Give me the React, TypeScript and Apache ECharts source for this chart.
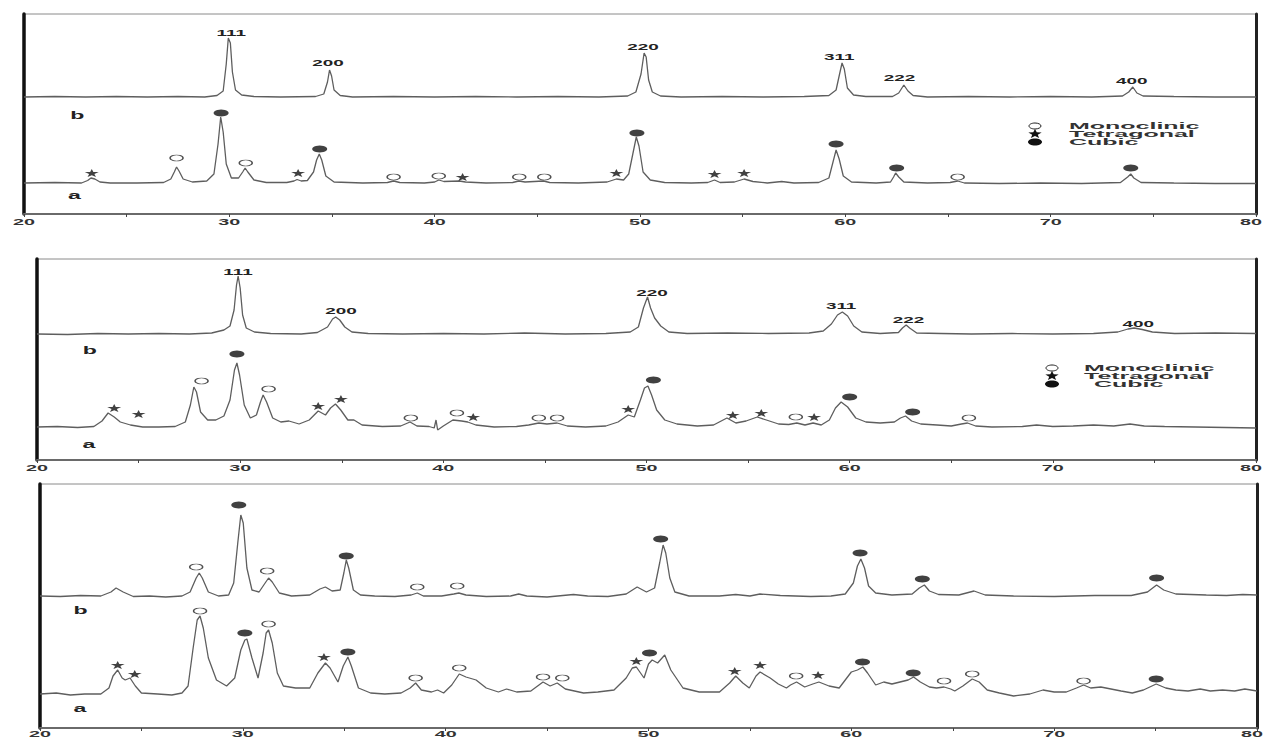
import React, { useEffect, useRef } from 'react';
import * as echarts from 'echarts';

// ---- axis ticks ----
const xTicks = [20, 30, 40, 50, 60, 70, 80];

// ---- Panel 1 ----
const p1B = [[20,117],[21.5,117.5],[23,117],[24.5,117.5],[26,117],[27.5,117.5],[28.8,117],[29.4,118.5],[29.7,123],[29.85,150],[29.95,176],[30.05,171],[30.15,142],[30.3,124],[30.6,119],[31.2,117.5],[32.5,117],[34.2,117.5],[34.6,120],[34.78,132],[34.88,144],[34.98,138],[35.1,124],[35.4,118.5],[36,117],[38,117.5],[40,117],[42,117.5],[44,117],[46,117.5],[48,117],[49.4,118],[49.8,122],[50.05,140],[50.2,161],[50.3,157],[50.42,134],[50.6,122],[51,118],[52,117],[54,117.5],[56,117],[58,117.5],[59.2,118.5],[59.55,124],[59.72,140],[59.84,151],[59.95,145],[60.1,126],[60.4,119],[61,117.5],[62.3,117.5],[62.6,121],[62.85,129],[63.05,123],[63.3,118.5],[64,117],[66,117.5],[68,117],[70,117.5],[72,117],[73.5,118],[73.8,122],[74.0,127],[74.2,121],[74.5,118],[76,117.5],[78,117],[80,117]];
const p1A = [[20,31],[21.5,31.5],[22.8,31],[23.1,33.5],[23.26,36],[23.45,35],[23.7,32],[24.2,31],[25.5,31],[26.8,31.5],[27.15,35],[27.32,42],[27.43,47],[27.55,43],[27.75,35],[28.2,32],[28.9,33],[29.25,40],[29.45,70],[29.58,97],[29.7,82],[29.85,50],[30.1,36],[30.45,36],[30.65,42],[30.77,46],[30.9,42],[31.2,34],[31.8,31.5],[32.8,31.5],[33.15,33],[33.3,34.5],[33.5,33],[33.8,33.5],[34.1,42],[34.25,54],[34.38,60],[34.5,54],[34.7,38],[35.1,32],[36.5,31],[37.7,31.5],[38.0,33],[38.3,31.5],[39.5,31],[40.0,32],[40.2,34],[40.45,32.5],[41.2,33],[41.5,32],[42.5,31],[43.8,31.5],[44.1,33],[44.4,32],[45.3,33],[45.6,31.5],[47,31],[48.4,32],[48.85,35],[49.2,34],[49.45,40],[49.65,60],[49.82,77],[49.95,68],[50.15,42],[50.5,34],[51.2,31.5],[52.5,31],[53.3,31.5],[53.63,34],[53.9,31.5],[54.6,32],[55.07,35],[55.5,32.5],[56.2,31],[56.9,32.5],[57.5,31],[58.7,31.5],[59.2,36],[59.4,52],[59.55,64],[59.7,55],[59.9,38],[60.3,32],[61.5,31],[62.2,32],[62.35,37],[62.45,41],[62.6,37],[62.85,32],[64,31],[65.1,31.5],[65.47,33],[65.8,31],[67.5,30.5],[69.5,31],[71.5,30.5],[73.4,31.5],[73.75,37],[73.9,40],[74.05,36],[74.4,31.5],[76,31],[78,30.5],[80,30.5]];
const p1Mono = [[27.43,56],[30.8,51],[38.0,37],[40.2,38],[44.12,37],[45.34,37],[65.47,37]];
const p1Tetra = [[23.3,41],[33.35,41],[41.36,37],[48.85,41],[53.63,40],[55.07,41]];
const p1Cubic = [[29.6,101],[34.4,65],[49.85,81],[59.55,70],[62.5,46],[73.9,46]];
const p1Hkl = [[30.09,181,'111'],[34.8,151,'200'],[50.15,167,'220'],[59.7,157,'311'],[62.64,136,'222'],[73.95,133,'400']];
const p1Tags = [[22.6,99,'b'],[22.45,19,'a']];

// ---- Panel 2 ----
const p2B = [[20,126],[21.5,125.5],[23,126.5],[24.5,126],[26,126.5],[27.5,126],[28.6,127],[29.2,130],[29.5,134],[29.7,150],[29.82,175],[29.9,184],[30.0,172],[30.12,145],[30.3,132],[30.7,128],[31.5,126.5],[33,126],[33.8,127.5],[34.3,133],[34.55,141],[34.7,143],[34.9,140],[35.15,133],[35.5,128],[36.3,126.5],[38,126],[40,126.5],[42,126],[44,127],[46,126],[48,126.5],[49.2,128],[49.6,133],[49.85,152],[50.05,163],[50.2,152],[50.4,142],[50.7,134],[51.1,128],[52,126.5],[54,127],[56,126.5],[58,127],[58.7,129],[59.1,136],[59.4,145],[59.64,148],[59.9,144],[60.2,134],[60.6,128],[61.5,126.5],[62.4,127.5],[62.6,132],[62.78,135],[62.95,132],[63.3,127],[64.5,126.5],[66,126],[68,126.5],[70,126],[72,126.5],[73.2,128],[73.7,131],[74.0,132],[74.4,130.5],[74.9,128],[76,126.5],[78,127],[80,126.5]];
const p2A = [[20,33],[21,33.5],[22,32.5],[22.8,33.5],[23.2,39],[23.5,47],[23.8,43],[24.1,38],[24.6,35],[25.2,33],[26,33],[26.8,33.5],[27.3,38],[27.55,55],[27.72,73],[27.85,68],[28.05,48],[28.4,40],[28.8,40],[29.2,44],[29.5,60],[29.72,90],[29.84,97],[29.97,85],[30.2,55],[30.5,42],[30.8,45],[31.0,58],[31.13,65],[31.3,58],[31.6,42],[32.0,38],[32.4,39],[32.9,36],[33.4,40],[33.84,49],[34.2,45],[34.45,52],[34.69,56],[34.95,50],[35.3,40],[35.6,40],[36,35],[37,33.5],[37.9,34],[38.36,38],[38.7,34],[39.3,33.5],[39.55,32],[39.64,40],[39.72,30],[40.0,34],[40.47,40],[40.9,39],[41.2,38],[41.6,35],[42.5,33],[43.6,33.5],[44.2,35],[44.7,37],[45.1,36],[45.6,37],[46.1,34],[47,33],[48,34],[48.6,38],[49.1,45],[49.4,43],[49.7,60],[49.9,72],[50.07,74],[50.25,65],[50.5,50],[50.9,40],[51.5,36],[52.5,34],[53.3,35],[53.96,42],[54.4,37],[54.9,39],[55.45,43],[55.9,40],[56.5,36],[57.0,35.5],[57.4,37],[57.8,35],[58.2,37],[58.6,35],[59.0,40],[59.3,52],[59.58,58],[59.9,53],[60.3,42],[60.8,38],[61.5,37],[62.2,38],[62.5,42],[62.75,44],[63.05,39],[63.5,36],[64.3,35],[65.0,34],[65.5,36],[65.8,37],[66.2,34],[67,33],[68.5,33.5],[69.2,35],[70,33.5],[71,34],[72,35],[73,34],[73.8,36],[74.5,34],[75.5,33.5],[77,33],[78.5,32.5],[80,32]];
const p2Mono = [[28.1,79],[31.4,71],[38.4,42],[40.67,47],[44.7,42],[45.6,42],[57.35,43],[65.87,42]];
const p2Tetra = [[23.8,52],[25.0,46],[33.84,54],[34.96,61],[41.47,43],[49.1,51],[54.25,45],[55.65,47],[58.25,43]];
const p2Cubic = [[29.84,106],[50.34,80],[60.0,63],[63.1,48]];
const p2Hkl = [[29.89,188,'111'],[34.96,149,'200'],[50.27,167,'220'],[59.58,154,'311'],[62.9,140,'222'],[74.2,136,'400']];
const p2Tags = [[22.6,110,'b'],[22.55,16,'a']];

// ---- Panel 3 ----
const p3B = [[20,132],[21,131.5],[22,132.5],[23,132],[23.5,136],[23.75,140],[24.1,136],[24.6,131.5],[25.4,132],[26.2,131],[27.0,132],[27.4,136],[27.7,150],[27.85,155],[28.0,150],[28.3,136],[28.8,132],[29.3,133],[29.55,145],[29.75,185],[29.9,213],[30.02,205],[30.2,160],[30.45,138],[30.8,136],[31.1,145],[31.27,150],[31.45,146],[31.8,135],[32.4,132],[33.3,133],[33.8,139],[34.07,141],[34.4,137],[34.8,138],[34.98,155],[35.1,168],[35.22,160],[35.45,138],[35.8,133],[36.5,132],[37.5,131.5],[38.3,133],[38.6,135],[38.9,132],[39.8,132],[40.4,134],[40.65,135],[41.0,133],[42,131.5],[43.2,132],[43.6,134],[44.0,132],[45,131],[46.3,133.5],[47,132],[48,131.5],[48.9,134],[49.44,141],[49.9,136],[50.3,140],[50.55,165],[50.72,183],[50.85,175],[51.05,150],[51.3,136],[52,132],[53.5,132],[54.3,133.5],[55,132],[55.5,134],[56.5,132.5],[58,131.5],[59,132],[59.7,134],[60.1,145],[60.3,162],[60.47,169],[60.65,160],[60.85,142],[61.2,135],[62,133],[63.0,134],[63.35,140],[63.6,143],[63.85,137],[64.3,133.5],[65.3,133],[66.05,137],[66.6,133],[68,132],[70,131.5],[72,132.5],[73.8,132.5],[74.6,136],[75.05,143],[75.4,138],[76,134],[77.5,133],[78.5,132.5],[79.3,133.5],[80,133]];
const p3A = [[20,34],[20.8,35],[21.5,33],[22.2,34],[23.0,34],[23.4,40],[23.6,52],[23.83,58],[24.05,50],[24.2,48],[24.44,50],[24.7,42],[25.0,35],[25.8,34],[26.5,33],[27.0,35],[27.3,42],[27.55,80],[27.75,108],[27.89,112],[28.05,100],[28.3,70],[28.7,48],[29.2,42],[29.6,50],[29.9,78],[30.1,88],[30.2,89],[30.45,70],[30.75,50],[31.0,75],[31.15,95],[31.27,98],[31.45,85],[31.7,55],[32.0,42],[32.6,40],[33.3,40],[33.7,55],[34.07,65],[34.3,60],[34.69,46],[34.95,62],[35.18,71],[35.35,62],[35.7,40],[36.3,35],[37,34],[37.8,35],[38.25,40],[38.52,45],[38.8,38],[39.3,36],[39.6,38],[39.9,35],[40.3,43],[40.67,54],[41.0,51],[41.5,48],[42.0,40],[42.6,36],[43.0,39],[43.5,36],[44.2,37],[44.8,46],[45.15,42],[45.5,45],[45.9,39],[46.8,35],[47.5,36],[48.3,38],[48.9,50],[49.2,60],[49.4,61],[49.78,50],[50.0,64],[50.18,68],[50.45,65],[50.8,73],[51.1,58],[51.7,40],[52.5,36],[53.5,36],[54.0,45],[54.3,52],[54.65,45],[54.97,40],[55.3,52],[55.5,56],[56.0,50],[56.4,44],[56.8,40],[57.0,43],[57.3,46],[57.7,41],[58.1,44],[58.4,46],[58.9,42],[59.4,40],[59.7,48],[60.0,56],[60.3,58],[60.57,61],[60.8,55],[61.2,43],[61.6,46],[62.0,44],[62.4,46],[62.8,48],[63.07,51],[63.4,46],[63.85,41],[64.2,40],[64.57,41],[64.9,39],[65.1,37],[65.5,42],[65.96,49],[66.3,46],[66.7,38],[67.3,35],[68.0,32],[68.8,34],[69.45,38],[70.0,36],[70.6,36],[71.1,40],[71.45,43],[71.8,40],[72.3,41],[72.8,39],[73.3,37],[73.85,35],[74.4,38],[75.03,44],[75.5,40],[76.0,38],[76.6,37],[77.2,39],[77.7,37],[78.3,38],[78.9,37],[79.4,39],[80,37]];
const p3MonoB = [[27.7,161],[31.2,157],[38.6,141],[40.57,142]];
const p3CubicB = [[29.8,223],[35.1,172],[50.6,189],[60.43,175],[63.5,149],[75.05,150]];
const p3MonoA = [[27.89,117],[31.27,104],[38.52,50],[40.67,60],[44.8,51],[45.75,50],[57.28,52],[64.57,47],[65.96,54],[71.45,47]];
const p3TetraA = [[23.83,63],[24.67,54],[34.0,71],[49.4,67],[54.25,57],[55.5,63],[58.36,53]];
const p3CubicA = [[30.1,95],[35.18,76],[50.05,75],[60.55,66],[63.05,55],[75.03,49]];
const p3Tags = [[22.0,118,'b'],[21.97,20,'a']];

const legendNames = ['Monoclinic', 'Tetragonal', 'Cubic'];

const STAR = 'path://M50,0L61,35L98,35L68,57L79,91L50,70L21,91L32,57L2,35L39,35Z';
const LINE_COLOR = '#5e5e5e';

function starPoints(cx: number, cy: number, rx: number, ry: number) {
  const pts: number[][] = [];
  for (let k = 0; k < 10; k++) {
    const r = k % 2 === 0 ? 1 : 0.42;
    const ang = -Math.PI / 2 + (k * Math.PI) / 5;
    pts.push([cx + rx * r * Math.cos(ang), cy + ry * r * Math.sin(ang)]);
  }
  return pts;
}

export default function App() {
  const ref = useRef<HTMLDivElement>(null);

  useEffect(() => {
    if (!ref.current) return;
    const chart = echarts.init(ref.current, null, { renderer: 'svg' });

    const panels = [
      { grid: { left: 24, top: 14, width: 1232, height: 200 }, ymax: 200, tickDy: 8,
        lines: [p1B, p1A], mono: [p1Mono], tetra: [p1Tetra], cubic: [p1Cubic], hkl: p1Hkl, tags: p1Tags },
      { grid: { left: 37, top: 259, width: 1219, height: 201 }, ymax: 201, tickDy: 8,
        lines: [p2B, p2A], mono: [p2Mono], tetra: [p2Tetra], cubic: [p2Cubic], hkl: p2Hkl, tags: p2Tags },
      { grid: { left: 40, top: 484, width: 1217, height: 244 }, ymax: 244, tickDy: 6,
        lines: [p3B, p3A], mono: [p3MonoB, p3MonoA], tetra: [p3TetraA], cubic: [p3CubicB, p3CubicA], hkl: [] as any[], tags: p3Tags },
    ];

    const grids: any[] = [];
    const xAxes: any[] = [];
    const yAxes: any[] = [];
    const series: any[] = [];

    const textSeries = (i: number, items: any[], font: string, scaleX: number, dy: number, color: string, edge?: boolean) => ({
      type: 'custom',
      xAxisIndex: i,
      yAxisIndex: 2 * i,
      clip: false,
      silent: true,
      z: 6,
      data: items.map((t) => [t[0], t[1]]),
      renderItem: (params: any, api: any) => {
        const pt = api.coord([api.value(0), api.value(1)]);
        const t = items[params.dataIndex];
        const last = edge && params.dataIndex === items.length - 1;
        return {
          type: 'text',
          x: last ? pt[0] + 6 : pt[0],
          y: pt[1] + dy,
          scaleX,
          style: { text: String(t[2]), font, fill: color, align: last ? 'right' : 'center', verticalAlign: 'middle' },
        };
      },
    });

    panels.forEach((p, i) => {
      grids.push({ ...p.grid, show: true, borderColor: '#8a8a8a', borderWidth: 1, backgroundColor: 'transparent' });
      xAxes.push({
        type: 'value', gridIndex: i, min: 20, max: 80, interval: 5,
        axisLine: { show: true, onZero: false, lineStyle: { color: '#6a6a6a', width: 2 } },
        axisTick: { show: true, length: 3, lineStyle: { color: '#444', width: 1 } },
        axisLabel: { show: false },
        splitLine: { show: false },
      });
      yAxes.push({
        type: 'value', gridIndex: i, min: 0, max: p.ymax, position: 'left',
        axisLine: { show: true, lineStyle: { color: '#111', width: 3.5 } },
        axisTick: { show: false }, axisLabel: { show: false }, splitLine: { show: false },
      });
      yAxes.push({
        type: 'value', gridIndex: i, min: 0, max: p.ymax, position: 'right',
        axisLine: { show: true, lineStyle: { color: '#222', width: 3 } },
        axisTick: { show: false }, axisLabel: { show: false }, splitLine: { show: false },
      });

      p.lines.forEach((d) => {
        series.push({
          type: 'line', xAxisIndex: i, yAxisIndex: 2 * i, data: d, showSymbol: false, silent: true,
          lineStyle: { color: LINE_COLOR, width: 1.3 }, z: 2,
        });
      });
      p.mono.forEach((d) => {
        series.push({
          type: 'scatter', name: legendNames[0], xAxisIndex: i, yAxisIndex: 2 * i, data: d, symbol: 'circle',
          symbolSize: [13, 6], itemStyle: { color: '#fff', borderColor: '#222', borderWidth: 1 }, z: 4, silent: true,
        });
      });
      p.tetra.forEach((d) => {
        series.push({
          type: 'scatter', name: legendNames[1], xAxisIndex: i, yAxisIndex: 2 * i, data: d, symbol: STAR,
          symbolSize: [14, 8], itemStyle: { color: '#111' }, z: 4, silent: true,
        });
      });
      p.cubic.forEach((d) => {
        series.push({
          type: 'scatter', name: legendNames[2], xAxisIndex: i, yAxisIndex: 2 * i, data: d, symbol: 'circle',
          symbolSize: [15, 7], itemStyle: { color: '#111' }, z: 4, silent: true,
        });
      });
      if (p.hkl.length) series.push(textSeries(i, p.hkl, 'bold 9px "Liberation Sans"', 2.1, 0, '#222'));
      series.push(textSeries(i, p.tags, 'bold 11px "Liberation Sans"', 2.1, 0, '#222'));
      series.push(textSeries(i, xTicks.map((v) => [v, 0, String(v)]), 'bold 9px "Liberation Sans"', 2.2, p.tickDy, '#333', true));
    });

    const legendGroup = (x0: number, y0: number, textX: number, cubicDx: number) => {
      const rows = [y0, y0 + 8, y0 + 16];
      const els: any[] = [
        { type: 'ellipse', shape: { cx: x0, cy: rows[0], rx: 6, ry: 3 }, style: { fill: '#fff', stroke: '#222', lineWidth: 1 } },
        { type: 'polygon', shape: { points: starPoints(x0, rows[1], 7, 5) }, style: { fill: '#111' } },
        { type: 'ellipse', shape: { cx: x0, cy: rows[2], rx: 7, ry: 3.5 }, style: { fill: '#111' } },
      ];
      legendNames.forEach((n, k) => {
        els.push({
          type: 'text', x: textX + (k === 2 ? cubicDx : 0), y: rows[k], scaleX: 2.5, scaleY: 0.9,
          style: { text: n, font: 'bold 10px "Liberation Sans"', fill: '#333', align: 'left', verticalAlign: 'middle' },
        });
      });
      return els;
    };

    chart.setOption({
      animation: false,
      backgroundColor: '#ffffff',
      grid: grids,
      xAxis: xAxes,
      yAxis: yAxes,
      series,
      graphic: [...legendGroup(1035, 126, 1069, 0), ...legendGroup(1052, 368, 1084, 10)],
    });

    return () => chart.dispose();
  }, []);

  return <div ref={ref} style={{ position: 'fixed', left: 0, top: 0, width: 1265, height: 740, background: '#fff' }} />;
}
